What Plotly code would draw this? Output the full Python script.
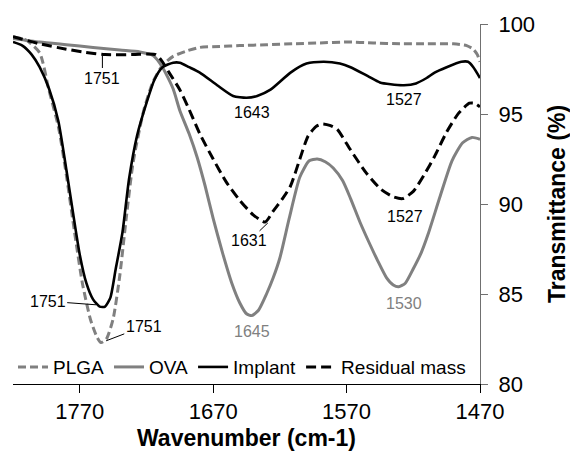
import plotly.graph_objects as go

# ---------------- data ----------------
plga_x = [1820, 1810, 1800, 1793, 1786, 1780, 1774, 1768, 1762, 1757, 1754, 1750, 1745, 1740, 1735,
          1730, 1722, 1715, 1708, 1700, 1690, 1680, 1665, 1650, 1630, 1610, 1590, 1570, 1550, 1530,
          1510, 1490, 1480, 1475, 1472, 1470]
plga_y = [99.3, 99.1, 98.4, 96.3, 94.3, 91.6, 88.5, 85.6, 83.6, 82.6, 82.3, 82.5, 83.6, 86.0, 89.3,
          92.3, 95.2, 96.8, 97.7, 98.2, 98.5, 98.7, 98.75, 98.8, 98.85, 98.9, 98.95, 99.0, 98.95, 98.9,
          98.9, 98.9, 98.8, 98.6, 98.3, 97.9]

ova_x = [1820, 1800, 1780, 1760, 1740, 1725, 1715, 1708, 1700, 1695, 1688, 1682, 1676, 1670, 1663,
         1656, 1650, 1645, 1641, 1636, 1630, 1625, 1620, 1613, 1605, 1598, 1592, 1586, 1580, 1573,
         1567, 1560, 1554, 1547, 1540, 1535, 1531, 1526, 1520, 1514, 1509, 1500, 1491, 1483, 1476, 1470]
ova_y = [99.2, 99.0, 98.85, 98.7, 98.55, 98.45, 98.25, 97.6, 96.4, 95.2, 93.9, 92.6, 91.0, 89.2, 87.3,
         85.6, 84.5, 83.9, 83.8, 84.1, 85.0, 85.9, 87.0, 89.2, 91.5, 92.4, 92.5, 92.35, 92.0, 91.3,
         90.3, 89.0, 88.0, 86.9, 85.9, 85.5, 85.4, 85.6, 86.4, 87.3, 88.3, 90.4, 92.4, 93.4, 93.7, 93.6]

implant_x = [1820, 1813, 1806, 1800, 1793, 1786, 1780, 1775, 1770, 1765, 1760, 1755, 1751, 1747, 1743,
             1738, 1733, 1727, 1720, 1714, 1708, 1700, 1695, 1688, 1680, 1667, 1655, 1645, 1637, 1627,
             1612, 1600, 1587, 1575, 1567, 1554, 1545, 1537, 1527, 1518, 1510, 1504, 1495, 1484, 1479,
             1475, 1470]
implant_y = [99.0, 98.8, 98.3, 97.6, 96.4, 94.6, 91.9, 89.5, 87.2, 85.6, 84.7, 84.3, 84.3, 84.8, 86.4,
             88.4, 91.4, 93.8, 95.6, 96.9, 97.6, 97.85, 97.85, 97.6, 97.3, 96.6, 96.0, 95.9, 96.0, 96.35,
             97.3, 97.8, 97.9, 97.8, 97.6, 97.1, 96.75, 96.65, 96.6, 96.7, 97.0, 97.3, 97.6, 97.9, 97.9,
             97.6, 97.0]

residual_x = [1820, 1800, 1780, 1768, 1751, 1730, 1713, 1708, 1703, 1695, 1688, 1680, 1670, 1660, 1650,
              1640, 1631, 1625, 1618, 1612, 1605, 1599, 1593, 1588, 1582, 1577, 1567, 1555, 1544, 1535,
              1528, 1520, 1512, 1504, 1495, 1486, 1478, 1474, 1470]
residual_y = [99.3, 98.9, 98.6, 98.45, 98.3, 98.3, 98.3, 97.9, 97.3, 96.35, 95.25, 93.9, 92.5, 91.2, 90.2,
              89.4, 89.0, 89.6, 90.3, 91.0, 92.5, 93.75, 94.3, 94.45, 94.35, 94.15, 93.0, 91.7, 90.8, 90.4,
              90.3, 90.7, 91.6, 92.65, 94.0, 95.05, 95.6, 95.6, 95.4]

x_ticks = [1770, 1670, 1570, 1470]
y_ticks = [80, 85, 90, 95, 100]

# peak labels: text, text position (x, y), colour
label_text = ["1751", "1643", "1631", "1527", "1527", "1645", "1530", "1751", "1751"]
label_x = [1753, 1641, 1643, 1527, 1526, 1641, 1527, 1794, 1722]
label_y = [97.0, 95.1, 87.95, 95.8, 89.3, 82.9, 84.5, 84.6, 83.2]
label_color = ["black", "black", "black", "black", "black", "#808080", "#808080", "black", "black"]
# leader lines (tip point) for labels that have one
leader_label = [0, 2, 7, 8]
leader_x = [1753, 1629, 1757.7, 1750.2]
leader_y = [98.25, 88.95, 84.4, 82.4]

GRAY = "#808080"
FONT = "Liberation Sans, Arial, sans-serif"

fig = go.Figure()
fig.add_trace(go.Scatter(x=plga_x, y=plga_y, name="PLGA", mode="lines",
                         line=dict(color=GRAY, width=3, dash="8px,4px", shape="spline", smoothing=0.6)))
fig.add_trace(go.Scatter(x=ova_x, y=ova_y, name="OVA", mode="lines",
                         line=dict(color=GRAY, width=3, shape="spline", smoothing=0.6)))
fig.add_trace(go.Scatter(x=implant_x, y=implant_y, name="Implant", mode="lines",
                         line=dict(color="black", width=2.6, shape="spline", smoothing=0.6)))
fig.add_trace(go.Scatter(x=residual_x, y=residual_y, name="Residual mass", mode="lines",
                         line=dict(color="black", width=3, dash="10px,5px", shape="spline", smoothing=0.6)))

for i, t in enumerate(label_text):
    if i in leader_label:
        k = leader_label.index(i)
        fig.add_annotation(x=leader_x[k], y=leader_y[k], ax=label_x[i], ay=label_y[i],
                           axref="x", ayref="y", xref="x", yref="y", text=t,
                           showarrow=True, arrowhead=0, arrowwidth=1, arrowcolor="black",
                           font=dict(family=FONT, size=16, color=label_color[i]))
    else:
        fig.add_annotation(x=label_x[i], y=label_y[i], xref="x", yref="y", text=t,
                           showarrow=False, font=dict(family=FONT, size=16, color=label_color[i]))

fig.update_layout(
    width=570, height=452,
    margin=dict(l=13, r=90, t=24, b=68, autoexpand=False),
    paper_bgcolor="white", plot_bgcolor="white",
    font=dict(family=FONT, color="black"),
    showlegend=True,
    legend=dict(orientation="h", x=0.0, xanchor="left", y=0.047, yanchor="middle",
                bgcolor="rgba(0,0,0,0)", font=dict(size=19, family=FONT),
                itemwidth=30, traceorder="normal"),
    xaxis=dict(range=[1820, 1470], tickvals=x_ticks, ticks="outside", ticklen=8,
               tickcolor="black", showline=True, linecolor="black", linewidth=1,
               showgrid=False, zeroline=False, tickfont=dict(size=22, family=FONT),
               automargin=False,
               title=dict(text="<b>Wavenumber (cm-1)</b>", font=dict(size=23, family=FONT), standoff=6)),
    yaxis=dict(range=[80, 100], tickvals=y_ticks, side="right", ticks="outside", ticklen=7,
               tickcolor="#707070", showline=True, linecolor="#707070", linewidth=1,
               showgrid=False, zeroline=False, tickfont=dict(size=22, family=FONT),
               ticklabelstandoff=6, automargin=False,
               title=dict(text="<b>Transmittance (%)</b>", font=dict(size=23, family=FONT), standoff=18)),
)

fig.write_html("out.html")
